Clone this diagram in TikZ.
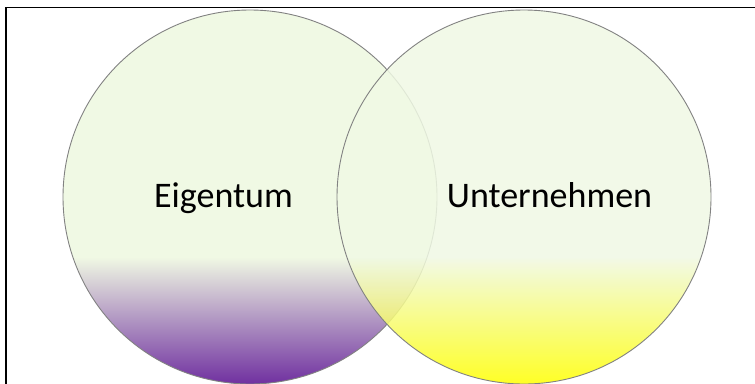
\documentclass[tikz,border=0pt]{standalone}
\usepackage{fontspec}
\setmainfont{Carlito}
\definecolor{lightfill}{RGB}{240,249,228}
\definecolor{purp}{RGB}{112,48,160}
\definecolor{yel}{RGB}{255,255,0}
\definecolor{rim}{RGB}{130,130,130}
\pgfdeclareverticalshading{purpshade}{100bp}{color(0bp)=(purp); color(25bp)=(purp); color(42bp)=(lightfill); color(100bp)=(lightfill)}
\pgfdeclareverticalshading{yelshade}{100bp}{color(0bp)=(yel); color(25bp)=(yel); color(42bp)=(lightfill); color(100bp)=(lightfill)}
\tikzset{
  circ/.style={draw=rim, line width=0.9pt},
  lbl/.style={anchor=base, inner sep=0pt, font=\fontsize{36}{40}\selectfont, text=black}
}
\begin{document}
\begin{tikzpicture}[x=1pt,y=-1pt]
\useasboundingbox (0,0) rectangle (755,383);
\begin{scope}
\clip (0,0) rectangle (755,383);
\fill[white] (0,0) rectangle (755,383);
\draw[black, line width=1.8pt] (6,7.5) rectangle (770,400);
\shade[shading=purpshade] (250,197) circle (187);
\draw[circ] (250,197) circle (187);
\shade[shading=yelshade, fill opacity=0.85] (524,197) circle (187);
\draw[circ] (524,197) circle (187);
\end{scope}
\node[lbl] (eig) at (223.5,207) {Eigentum};
\node[lbl] (unt) at (549.5,207) {Unternehmen};
\end{tikzpicture}
\end{document}
